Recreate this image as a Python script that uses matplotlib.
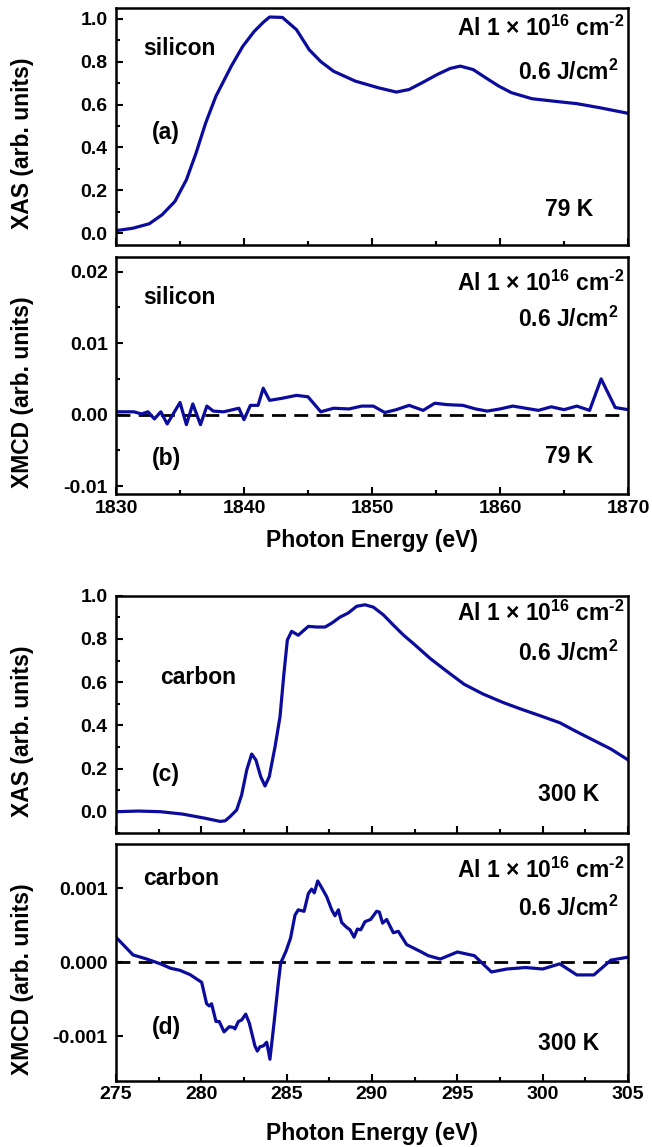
import matplotlib
matplotlib.use("Agg")
import matplotlib.pyplot as plt
from matplotlib.ticker import MultipleLocator

plt.rcParams['font.family'] = ['Liberation Sans', 'DejaVu Sans']
plt.rcParams['font.weight'] = 'bold'
plt.rcParams['axes.labelweight'] = 'bold'
plt.rcParams['axes.unicode_minus'] = False
plt.rcParams['mathtext.fontset'] = 'custom'
plt.rcParams['mathtext.rm'] = 'Liberation Sans:bold'
plt.rcParams['mathtext.bf'] = 'Liberation Sans:bold'
plt.rcParams['mathtext.it'] = 'Liberation Sans:bold'
plt.rcParams['mathtext.default'] = 'rm'

# (a) Si K-edge XAS, 79 K
si_xas_e = [1830, 1831.3, 1832.6, 1833.6, 1834.6, 1835.5, 1836.25, 1837.0, 1837.8,
            1839.0, 1839.9, 1840.8, 1841.5, 1842.0, 1843.0, 1844.1, 1845.1, 1846.0,
            1847.0, 1848.7, 1850.5, 1851.9, 1852.9, 1853.9, 1855.1, 1856.1, 1856.9,
            1857.9, 1858.9, 1859.9, 1860.9, 1862.5, 1864.6, 1866.0, 1867.8, 1870]
si_xas = [0.012, 0.023, 0.044, 0.086, 0.148, 0.249, 0.373, 0.513, 0.638,
          0.778, 0.871, 0.941, 0.983, 1.008, 1.006, 0.949, 0.855, 0.80,
          0.755, 0.709, 0.678, 0.658, 0.670, 0.701, 0.740, 0.768, 0.779,
          0.763, 0.724, 0.686, 0.655, 0.627, 0.613, 0.604, 0.585, 0.559]

# (b) Si K-edge XMCD, 79 K
si_xmcd_e = [1830, 1830.7, 1831.4, 1832.0, 1832.5, 1833.0, 1833.5, 1834.0, 1835.0,
             1835.5, 1836.0, 1836.6, 1837.1, 1837.6, 1838.4, 1838.9, 1839.6, 1840.0,
             1840.5, 1841.1, 1841.5, 1842.0, 1843.0, 1844.1, 1845.0, 1846.0, 1847.0,
             1848.2, 1849.2, 1850.1, 1851.0, 1851.9, 1852.9, 1854.0, 1854.9, 1855.9,
             1857.1, 1858.1, 1859.0, 1860.0, 1861.0, 1862.0, 1863.0, 1864.0, 1865.0,
             1866.0, 1867.0, 1867.9, 1869.0, 1870]
si_xmcd = [0.0004, 0.0004, 0.0004, 0.0001, 0.0004, -0.0006, 0.0004, -0.0013, 0.0017,
           -0.0014, 0.0015, -0.0014, 0.0012, 0.0005, 0.0004, 0.0006, 0.0009, -0.0007,
           0.0013, 0.0013, 0.0037, 0.0020, 0.0023, 0.0027, 0.0025, 0.0004, 0.0009,
           0.0008, 0.0012, 0.0012, 0.0003, 0.0007, 0.0013, 0.0006, 0.0016, 0.0014,
           0.0013, 0.0008, 0.0005, 0.0008, 0.0012, 0.0009, 0.0006, 0.0011, 0.0007,
           0.0012, 0.0006, 0.0050, 0.0010, 0.0007]

# (c) C K-edge XAS, 300 K
c_xas_e = [275, 276.3, 277.6, 278.9, 280.2, 281.1, 281.4, 281.68, 282.07, 282.36,
           282.66, 282.95, 283.2, 283.48, 283.73, 283.98, 284.32, 284.61, 284.84,
           285.04, 285.29, 285.68, 286.27, 286.76, 287.25, 287.64, 288.13, 288.61,
           289.1, 289.59, 290.08, 290.67, 291.25, 291.84, 292.52, 293.4, 294.3,
           295.4, 296.5, 297.7, 298.8, 299.9, 301.0, 302.0, 303.0, 304.0, 305.0]
c_xas = [0.0, 0.003, 0.0, -0.011, -0.030, -0.045, -0.042, -0.023, 0.008, 0.077,
         0.193, 0.267, 0.239, 0.162, 0.119, 0.162, 0.301, 0.44, 0.64,
         0.795, 0.835, 0.817, 0.858, 0.855, 0.855, 0.873, 0.901, 0.92,
         0.951, 0.958, 0.947, 0.911, 0.864, 0.818, 0.772, 0.71, 0.655,
         0.59, 0.545, 0.505, 0.473, 0.443, 0.412, 0.37, 0.33, 0.29, 0.24]

# (d) C K-edge XMCD, 300 K
c_xmcd_e = [275.04, 276.0, 276.8, 277.6, 278.2, 278.75, 279.34, 280.02, 280.31, 280.47,
            280.6, 280.86, 281.05, 281.33, 281.64, 281.88, 281.97, 282.17, 282.36,
            282.6, 282.81, 283.14, 283.28, 283.44, 283.63, 283.83, 284.02, 284.26,
            284.51, 284.65, 284.96, 285.23, 285.49, 285.68, 286.02, 286.27, 286.46,
            286.62, 286.82, 287.05, 287.34, 287.64, 287.83, 288.03, 288.22, 288.48,
            288.71, 288.95, 289.14, 289.34, 289.59, 289.92, 290.27, 290.43, 290.62,
            290.86, 291.25, 291.54, 292.03, 292.81, 293.3, 294.0, 295.0, 296.0,
            297.0, 297.9, 299.0, 300.0, 301.0, 302.0, 303.0, 304.0, 305.0]
c_xmcd = [0.00033, 0.0001, 0.000045, -0.00002, -0.00008, -0.000108, -0.000166, -0.00027,
          -0.00056, -0.00059, -0.00056, -0.0008, -0.0008, -0.00094, -0.00087, -0.00088,
          -0.0009, -0.0008, -0.00078, -0.0007, -0.00082, -0.00113, -0.0012, -0.00114,
          -0.00113, -0.00108, -0.00131, -0.00082, -0.00028, -0.00001, 0.00015, 0.00033,
          0.00064, 0.00071, 0.00069, 0.00093, 0.00099, 0.00094, 0.0011, 0.00101,
          0.00089, 0.00071, 0.00063, 0.00071, 0.00054, 0.00048, 0.00044, 0.00034,
          0.00045, 0.00044, 0.00055, 0.00058, 0.00069, 0.00068, 0.00053, 0.00058,
          0.0004, 0.00042, 0.00024, 0.00015, 0.00009, 0.000045, 0.00014, 0.00009,
          -0.00013, -0.00009, -0.00007, -0.00009, -0.00002, -0.00017, -0.00017,
          0.00003, 0.00007]

line_color = '#0c0c9c'
dose_text = 'Al 1 \u00d7 10$^{16}$ cm$^{\u2010 2}$'
fluence_text = '0.6 J/cm$^{2}$'

fig = plt.figure(figsize=(6.52, 11.47), dpi=100)
W, H = 652.0, 1147.0


def make_axes(top, bottom):
    left, right = 116, 628
    return fig.add_axes([left / W, 1 - bottom / H, (right - left) / W, (bottom - top) / H])


def style_axes(ax):
    for sp in ax.spines.values():
        sp.set_linewidth(1.8)
    ax.tick_params(which='both', direction='in', top=False, right=False,
                   labelsize=14, width=1.5)
    ax.tick_params(which='major', length=5, pad=4)
    ax.tick_params(which='minor', length=3)
    ax.tick_params(axis='y', pad=6)


def add_notes(ax, element, tag, temp, el_pos, tag_pos, al_y, fl_y, temp_y):
    kw = dict(transform=ax.transAxes, fontsize=16.5, fontweight='bold', va='center')
    ax.text(el_pos[0], el_pos[1], element, ha='left', **kw)
    ax.text(tag_pos[0], tag_pos[1], tag, ha='left', **kw)
    ax.text(0.992, al_y, dose_text, ha='right', **kw)
    ax.text(0.981, fl_y, fluence_text, ha='right', **kw)
    ax.text(0.885, temp_y, temp, ha='center', **kw)


# panel (a)
ax_a = make_axes(8, 245)
ax_a.plot(si_xas_e, si_xas, color=line_color, lw=2.3)
ax_a.set_xlim(1830, 1870)
ax_a.set_ylim(-0.055, 1.05)
ax_a.xaxis.set_major_locator(MultipleLocator(10))
ax_a.xaxis.set_minor_locator(MultipleLocator(5))
ax_a.yaxis.set_major_locator(MultipleLocator(0.2))
ax_a.yaxis.set_minor_locator(MultipleLocator(0.1))
ax_a.yaxis.set_major_formatter('{x:.1f}')
style_axes(ax_a)
ax_a.tick_params(axis='x', labelbottom=False)
ax_a.set_ylabel('XAS (arb. units)', fontsize=16.5, va='center')
ax_a.yaxis.set_label_coords(-0.182, 0.43)
add_notes(ax_a, 'silicon', '(a)', '79 K', (0.053, 0.831), (0.07, 0.473), 0.916, 0.73, 0.148)

# panel (b)
ax_b = make_axes(256.7, 494)
ax_b.axhline(0, color='black', lw=2, ls=(0, (5, 3)))
ax_b.plot(si_xmcd_e, si_xmcd, color=line_color, lw=2.3)
ax_b.set_xlim(1830, 1870)
ax_b.set_ylim(-0.0111, 0.0221)
ax_b.xaxis.set_major_locator(MultipleLocator(10))
ax_b.xaxis.set_minor_locator(MultipleLocator(5))
ax_b.yaxis.set_major_locator(MultipleLocator(0.01))
ax_b.yaxis.set_minor_locator(MultipleLocator(0.005))
ax_b.yaxis.set_major_formatter('{x:.2f}')
style_axes(ax_b)
ax_b.set_ylabel('XMCD (arb. units)', fontsize=16.5, va='center')
ax_b.yaxis.set_label_coords(-0.182, 0.43)
ax_b.set_xlabel('Photon Energy (eV)', fontsize=16.5, va='center')
ax_b.xaxis.set_label_coords(0.5, -0.195)
add_notes(ax_b, 'silicon', '(b)', '79 K', (0.053, 0.827), (0.07, 0.15), 0.89, 0.735, 0.159)

# panel (c)
ax_c = make_axes(595.7, 833.3)
ax_c.plot(c_xas_e, c_xas, color=line_color, lw=2.3)
ax_c.set_xlim(275, 305)
ax_c.set_ylim(-0.1, 1.0)
ax_c.xaxis.set_major_locator(MultipleLocator(5))
ax_c.xaxis.set_minor_locator(MultipleLocator(2.5))
ax_c.yaxis.set_major_locator(MultipleLocator(0.2))
ax_c.yaxis.set_minor_locator(MultipleLocator(0.1))
ax_c.yaxis.set_major_formatter('{x:.1f}')
style_axes(ax_c)
ax_c.tick_params(axis='x', labelbottom=False)
ax_c.set_ylabel('XAS (arb. units)', fontsize=16.5, va='center')
ax_c.yaxis.set_label_coords(-0.182, 0.43)
add_notes(ax_c, 'carbon', '(c)', '300 K', (0.086, 0.654), (0.07, 0.246), 0.927, 0.759, 0.162)

# panel (d)
ax_d = make_axes(844, 1080.7)
ax_d.axhline(0, color='black', lw=2, ls=(0, (5, 3)))
ax_d.plot(c_xmcd_e, c_xmcd, color=line_color, lw=2.3)
ax_d.set_xlim(275, 305)
ax_d.set_ylim(-0.0016, 0.0016)
ax_d.xaxis.set_major_locator(MultipleLocator(5))
ax_d.xaxis.set_minor_locator(MultipleLocator(2.5))
ax_d.yaxis.set_major_locator(MultipleLocator(0.001))
ax_d.yaxis.set_major_formatter('{x:.3f}')
style_axes(ax_d)
ax_d.set_ylabel('XMCD (arb. units)', fontsize=16.5, va='center')
ax_d.yaxis.set_label_coords(-0.182, 0.43)
ax_d.set_xlabel('Photon Energy (eV)', fontsize=16.5, va='center')
ax_d.xaxis.set_label_coords(0.5, -0.221)
add_notes(ax_d, 'carbon', '(d)', '300 K', (0.053, 0.856), (0.07, 0.223), 0.89, 0.73, 0.159)

fig.savefig('out.png', dpi=100)
